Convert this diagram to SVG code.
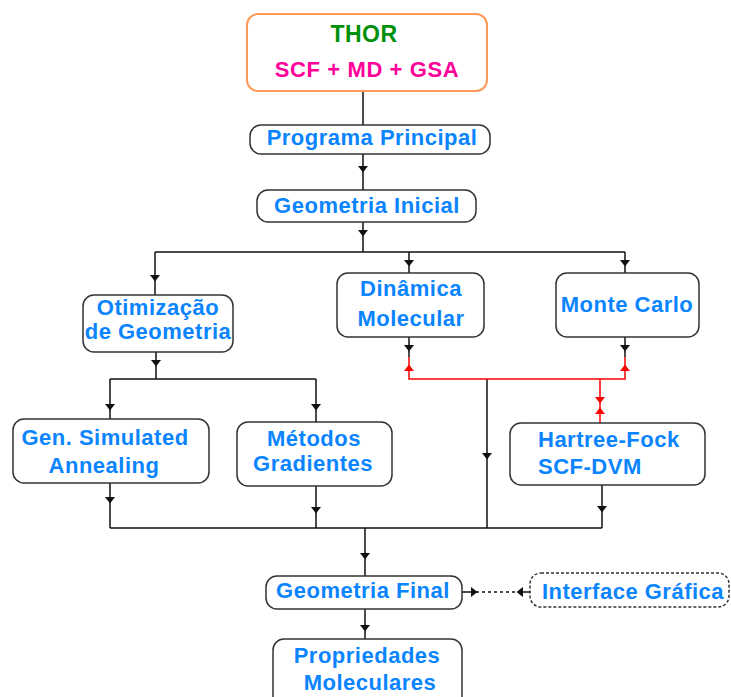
<svg xmlns="http://www.w3.org/2000/svg" width="731" height="697" viewBox="0 0 731 697">
<style>
.box{fill:#fff;stroke:#333;stroke-width:1.5}
.t{font-family:"Liberation Sans",Arial,sans-serif;font-weight:bold;font-size:22px;fill:#0a84ff;text-anchor:middle;letter-spacing:0.5px}
.c{fill:none;stroke:#111;stroke-width:1.5}
.r{fill:none;stroke:#ff0000;stroke-width:1.5}
.ah{fill:#111}
.ar{fill:#ff0000}
</style>
<defs>
<path id="ad" d="M-5,-3 L5,-3 L0,3.5 Z"/>
</defs>
<rect width="731" height="697" fill="#fff"/>
<g id="connectors">
<path class="c" d="M363,91V125 M363,154V190 M363,222V252 M155,252H625 M155,252V295 M409,252V273 M625,252V273 M156,352V379 M110,379H316 M110,379V419 M316,379V422 M110,483V528 M316,486V528 M602,485V528 M110,528H602 M487,379V528 M365,528V576 M365,609V639 M409,337V357 M625,337V357 M462,592H470 M523,592H530"/>
<path class="r" d="M409,357V379H625V357 M600,379V423"/>
<path d="M470,592H523" fill="none" stroke="#111" stroke-width="1.5" stroke-dasharray="3,3"/>
<g class="ah">
<use href="#ad" x="363" y="169"/>
<use href="#ad" x="363" y="233"/>
<use href="#ad" x="155" y="278"/>
<use href="#ad" x="409" y="263"/>
<use href="#ad" x="625" y="263"/>
<use href="#ad" x="156" y="363"/>
<use href="#ad" x="110" y="407"/>
<use href="#ad" x="316" y="407"/>
<use href="#ad" x="110" y="500"/>
<use href="#ad" x="316" y="510"/>
<use href="#ad" x="602" y="509"/>
<use href="#ad" x="487" y="456"/>
<use href="#ad" x="409" y="348"/>
<use href="#ad" x="625" y="348"/>
<use href="#ad" x="365" y="556"/>
<use href="#ad" x="365" y="628"/>
<use href="#ad" transform="translate(474,592) rotate(-90)"/>
<use href="#ad" transform="translate(520,592) rotate(90)"/>
</g>
<g class="ar">
<use href="#ad" transform="translate(409,368) rotate(180)"/>
<use href="#ad" transform="translate(625,368) rotate(180)"/>
<use href="#ad" x="600" y="400"/>
<use href="#ad" transform="translate(600,411) rotate(180)"/>
</g>
</g>
<g id="thor">
<rect x="247" y="14" width="240" height="77" rx="11" fill="#fff" stroke="#ff9955" stroke-width="2"/>
<text x="364" y="42" class="t" style="fill:#00900a;font-size:23px">THOR</text>
<text x="367" y="77" class="t" style="fill:#ff0099;letter-spacing:0.6px">SCF + MD + GSA</text>
</g>
<g id="programa-principal">
<rect class="box" x="250" y="125" width="240" height="29" rx="11"/>
<text x="372" y="145" class="t">Programa Principal</text>
</g>
<g id="geometria-inicial">
<rect class="box" x="257" y="190" width="219" height="32" rx="11"/>
<text x="367" y="213" class="t">Geometria Inicial</text>
</g>
<g id="otimizacao">
<rect class="box" x="83" y="295" width="150" height="57" rx="11"/>
<text x="158" y="315" class="t">Otimização</text>
<text x="158" y="339" class="t">de Geometria</text>
</g>
<g id="dinamica-molecular">
<rect class="box" x="337" y="273" width="147" height="64" rx="11"/>
<text x="411" y="296" class="t">Dinâmica</text>
<text x="411" y="326" class="t">Molecular</text>
</g>
<g id="monte-carlo">
<rect class="box" x="556" y="273" width="143" height="64" rx="11"/>
<text x="627" y="312" class="t">Monte Carlo</text>
</g>
<g id="gen-simulated-annealing">
<rect class="box" x="13" y="419" width="196" height="64" rx="11"/>
<text x="105" y="445" class="t">Gen. Simulated</text>
<text x="104" y="473" class="t">Annealing</text>
</g>
<g id="metodos-gradientes">
<rect class="box" x="237" y="422" width="155" height="64" rx="11"/>
<text x="314" y="446" class="t">Métodos</text>
<text x="313" y="471" class="t">Gradientes</text>
</g>
<g id="hartree-fock">
<rect class="box" x="510" y="423" width="195" height="62" rx="11"/>
<text x="538" y="447" class="t" style="text-anchor:start">Hartree-Fock</text>
<text x="538" y="474" class="t" style="text-anchor:start">SCF-DVM</text>
</g>
<g id="geometria-final">
<rect class="box" x="266" y="576" width="196" height="33" rx="11"/>
<text x="363" y="598" class="t">Geometria Final</text>
</g>
<g id="interface-grafica">
<rect class="box" x="530" y="573" width="199" height="34" rx="11" stroke-dasharray="3,2"/>
<text x="633" y="599" class="t">Interface Gráfica</text>
</g>
<g id="propriedades-moleculares">
<rect class="box" x="273" y="639" width="189" height="70" rx="11"/>
<text x="367" y="663" class="t">Propriedades</text>
<text x="370" y="690" class="t">Moleculares</text>
</g>
</svg>
